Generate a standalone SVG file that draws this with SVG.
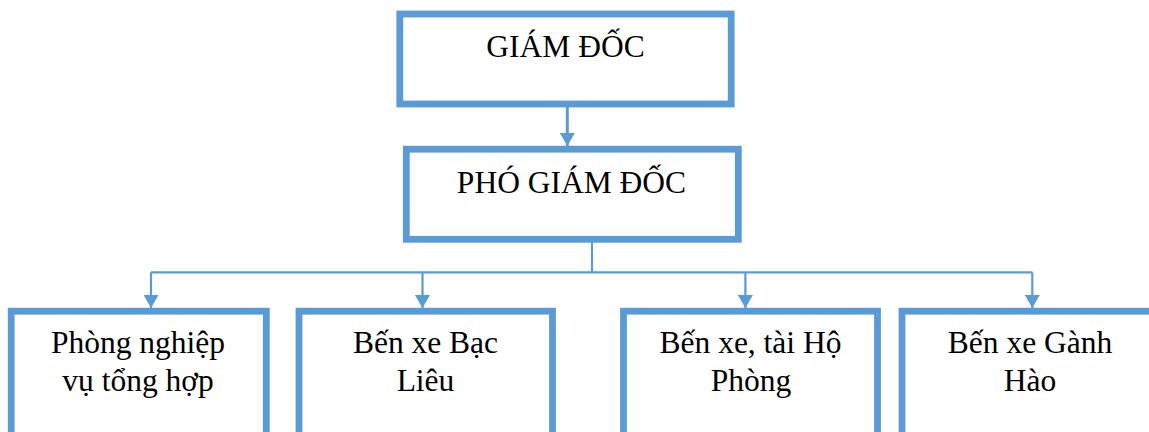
<svg xmlns="http://www.w3.org/2000/svg" width="1149" height="432" viewBox="0 0 1149 432">
  <style>
    .box { fill: #ffffff; stroke: #5B9BD5; stroke-width: 6.8; }
    .lbl { font-family: "Liberation Serif", "Times New Roman", serif; font-size: 31.5px; fill: #000000; text-anchor: middle; }
    .conn { fill: none; stroke: #5B9BD5; stroke-width: 2.2; }
    .conn-thick { fill: none; stroke: #5B9BD5; stroke-width: 3; }
  </style>
  <defs>
    <marker id="arrow" markerUnits="userSpaceOnUse" markerWidth="13" markerHeight="15" viewBox="0 0 13 15" refX="13" refY="7.5" orient="auto">
      <path d="M0,0 L13,7.5 L0,15 Z" fill="#5B9BD5"/>
    </marker>
  </defs>
  <rect width="1149" height="432" fill="#ffffff"/>

  <g id="connectors">
    <line class="conn-thick" x1="567.3" y1="107" x2="567.3" y2="146" marker-end="url(#arrow)"/>
    <polyline class="conn" points="592,242 592,272.3"/>
    <polyline class="conn" points="151,272.3 1032.3,272.3"/>
    <line class="conn" x1="151" y1="272.3" x2="151" y2="308" marker-end="url(#arrow)"/>
    <line class="conn" x1="422.5" y1="272.3" x2="422.5" y2="308" marker-end="url(#arrow)"/>
    <line class="conn" x1="745.4" y1="272.3" x2="745.4" y2="308" marker-end="url(#arrow)"/>
    <line class="conn" x1="1032.3" y1="272.3" x2="1032.3" y2="308" marker-end="url(#arrow)"/>
  </g>

  <g id="giam-doc">
    <rect class="box" x="399.8" y="14" width="331.4" height="90"/>
    <text class="lbl" x="565.5" y="57">GIÁM ĐỐC</text>
  </g>

  <g id="pho-giam-doc">
    <rect class="box" x="406.3" y="149.2" width="332" height="90.1"/>
    <text class="lbl" x="571.5" y="192.7">PHÓ GIÁM ĐỐC</text>
  </g>

  <g id="phong-nghiep-vu">
    <rect class="box" x="11.2" y="311.2" width="255.1" height="140"/>
    <text class="lbl" x="138" y="353.3">Phòng nghiệp</text>
    <text class="lbl" x="138" y="390.7">vụ tổng hợp</text>
  </g>

  <g id="ben-xe-bac-lieu">
    <rect class="box" x="299" y="311.2" width="253.5" height="140"/>
    <text class="lbl" x="425.5" y="353.3">Bến xe Bạc</text>
    <text class="lbl" x="425.5" y="390.7">Liêu</text>
  </g>

  <g id="ben-xe-ho-phong">
    <rect class="box" x="623.5" y="311.2" width="254" height="140"/>
    <text class="lbl" x="750.5" y="353.3">Bến xe, tài Hộ</text>
    <text class="lbl" x="751" y="390.7">Phòng</text>
  </g>

  <g id="ben-xe-ganh-hao">
    <rect class="box" x="902" y="311.2" width="256" height="140"/>
    <text class="lbl" x="1030" y="353.3">Bến xe Gành</text>
    <text class="lbl" x="1030" y="390.7">Hào</text>
  </g>
</svg>
